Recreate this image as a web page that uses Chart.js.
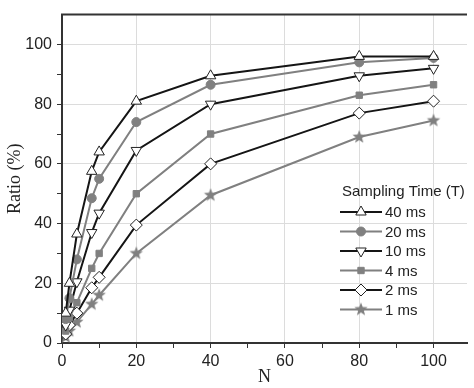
<!DOCTYPE html>
<html>
<head>
<meta charset="utf-8">
<script src="https://cdn.jsdelivr.net/npm/chart.js@4.4.0/dist/chart.umd.min.js"></script>
<style>
  html, body { margin: 0; padding: 0; background: #fff; }
  #wrap { width: 474px; height: 388px; }
</style>
</head>
<body>
<div id="wrap"><canvas id="c" width="474" height="388"></canvas></div>
<script>
// ---- data ----
const N = [1, 2, 4, 8, 10, 20, 40, 80, 100];
const seriesLabels = ['40 ms', '20 ms', '10 ms', '4 ms', '2 ms', '1 ms'];
const t40 = [10, 20, 36.5, 57.5, 64, 81, 89.5, 96, 96];
const t20 = [8, 15, 28, 48.5, 55, 74, 86.5, 94, 95.5];
const t10 = [6, 11, 20.5, 37, 43.5, 64.5, 80, 89.5, 92];
const t4  = [4, 8.5, 13.5, 25, 30, 50, 70, 83, 86.5];
const t2  = [3, 6, 10, 18.5, 22, 39.5, 60, 77, 81];
const t1  = [2, 4, 7, 13, 16, 30, 49.5, 69, 74.5];
const xTickLabels = [0, 20, 40, 60, 80, 100];
const yTickLabels = [0, 20, 40, 60, 80, 100];

const BLACK = '#151515';
const GRAY = '#808080';

function makeStar(r, fill) {
  const s = Math.ceil(r * 2 + 2);
  const cv = document.createElement('canvas');
  cv.width = s; cv.height = s;
  const g = cv.getContext('2d');
  const cx = s / 2, cy = s / 2, ri = r * 0.42;
  g.beginPath();
  for (let i = 0; i < 10; i++) {
    const rr = i % 2 === 0 ? r : ri;
    const a = -Math.PI / 2 + i * Math.PI / 5;
    const px = cx + rr * Math.cos(a), py = cy + rr * Math.sin(a);
    if (i === 0) g.moveTo(px, py); else g.lineTo(px, py);
  }
  g.closePath();
  g.fillStyle = fill;
  g.fill();
  return cv;
}
const starImg = makeStar(7, GRAY);

function pts(arr) { return N.map((n, i) => ({ x: n, y: arr[i] })); }

const styles = [
  { data: t40, line: BLACK, fill: '#ffffff', stroke: '#222', style: 'triangle', radius: 6, rot: 0 },
  { data: t20, line: GRAY, fill: GRAY, stroke: GRAY, style: 'circle', radius: 4.5, rot: 0 },
  { data: t10, line: BLACK, fill: '#ffffff', stroke: '#222', style: 'triangle', radius: 6, rot: 180 },
  { data: t4,  line: GRAY, fill: GRAY, stroke: GRAY, style: 'rect', radius: 4.5, rot: 0 },
  { data: t2,  line: BLACK, fill: '#ffffff', stroke: '#222', style: 'rectRot', radius: 6, rot: 0 },
  { data: t1,  line: GRAY, fill: GRAY, stroke: GRAY, style: starImg, radius: 6, rot: 0 },
];

const datasets = styles.map((s, i) => ({
  label: seriesLabels[i],
  data: pts(s.data),
  borderColor: s.line,
  borderWidth: 2,
  pointStyle: s.style,
  pointRotation: s.rot,
  pointRadius: s.radius,
  pointHoverRadius: s.radius,
  pointBackgroundColor: s.fill,
  pointBorderColor: s.stroke,
  pointBorderWidth: 1,
  tension: 0,
  fill: false,
}));

const framePlugin = {
  id: 'frame',
  beforeDatasetsDraw(chart) {
    const { ctx, chartArea } = chart;
    ctx.save();
    ctx.strokeStyle = '#333';
    ctx.lineWidth = 2;
    ctx.beginPath();
    ctx.moveTo(chartArea.left - 1, chartArea.top);
    ctx.lineTo(chartArea.right, chartArea.top);
    ctx.stroke();
    ctx.restore();
  }
};

const legendPlugin = {
  id: 'customLegend',
  afterDraw(chart) {
    const { ctx } = chart;
    const x0 = 340, lineLen = 42, textX = 385;
    const titleY = 192, itemY0 = 212, dy = 19.5;
    ctx.save();
    ctx.font = '15px "Liberation Sans", Arial, sans-serif';
    ctx.fillStyle = '#222';
    ctx.textBaseline = 'middle';
    ctx.textAlign = 'left';
    ctx.fillText('Sampling Time (T)', 342, titleY);
    chart.data.datasets.forEach((ds, i) => {
      const y = itemY0 + i * dy;
      ctx.strokeStyle = ds.borderColor;
      ctx.lineWidth = 2;
      ctx.beginPath();
      ctx.moveTo(x0, y);
      ctx.lineTo(x0 + lineLen, y);
      ctx.stroke();
      ctx.fillStyle = ds.pointBackgroundColor;
      ctx.strokeStyle = ds.pointBorderColor;
      ctx.lineWidth = 1;
      Chart.helpers.drawPoint(ctx, {
        pointStyle: ds.pointStyle,
        rotation: ds.pointRotation,
        radius: ds.pointRadius,
        borderWidth: 1
      }, x0 + lineLen / 2, y);
      ctx.fillStyle = '#222';
      ctx.fillText(ds.label, textX, y + 1);
    });
    ctx.restore();
  }
};

const tickFont = { family: '"Liberation Sans", Arial, sans-serif', size: 16 };
const titleFont = { family: '"Liberation Serif", "Times New Roman", serif', size: 18 };

function gridColor(labels) {
  return (c) => (c.tick && labels.includes(c.tick.value)) ? '#dcdcdc' : 'rgba(0,0,0,0)';
}
function tickColor(max) {
  return (c) => (c.tick && c.tick.value <= max) ? '#333' : 'rgba(0,0,0,0)';
}

new Chart(document.getElementById('c'), {
  type: 'line',
  data: { datasets },
  options: {
    responsive: false,
    devicePixelRatio: 1,
    animation: false,
    layout: { padding: { top: 5, right: 0, left: 0, bottom: 0 } },
    plugins: { legend: { display: false }, tooltip: { enabled: false } },
    scales: {
      x: {
        type: 'linear',
        min: 0, max: 109,
        afterFit(scale) { scale.height = 45; },
        ticks: {
          stepSize: 10, includeBounds: false, autoSkip: false, maxRotation: 0,
          padding: 4, color: '#222', font: tickFont,
          callback: (v) => xTickLabels.includes(v) ? String(v) : ''
        },
        grid: { color: gridColor(xTickLabels), tickColor: tickColor(100), tickLength: 5, lineWidth: 1 },
        border: { display: true, color: '#333', width: 2 },
        title: { display: true, text: 'N', color: '#222', font: titleFont, padding: { top: 0, bottom: 0 } }
      },
      y: {
        min: 0, max: 110,
        afterFit(scale) { scale.width = 62; },
        ticks: {
          stepSize: 10, includeBounds: false, autoSkip: false,
          padding: 5, color: '#222', font: tickFont,
          callback: (v) => yTickLabels.includes(v) ? String(v) : ''
        },
        grid: { color: gridColor(yTickLabels), tickColor: tickColor(100), tickLength: 5, lineWidth: 1 },
        border: { display: true, color: '#333', width: 2 },
        title: { display: true, text: 'Ratio (%)', color: '#222', font: titleFont, padding: { top: 4, bottom: 0 } }
      }
    }
  },
  plugins: [framePlugin, legendPlugin]
});
</script>
</body>
</html>
